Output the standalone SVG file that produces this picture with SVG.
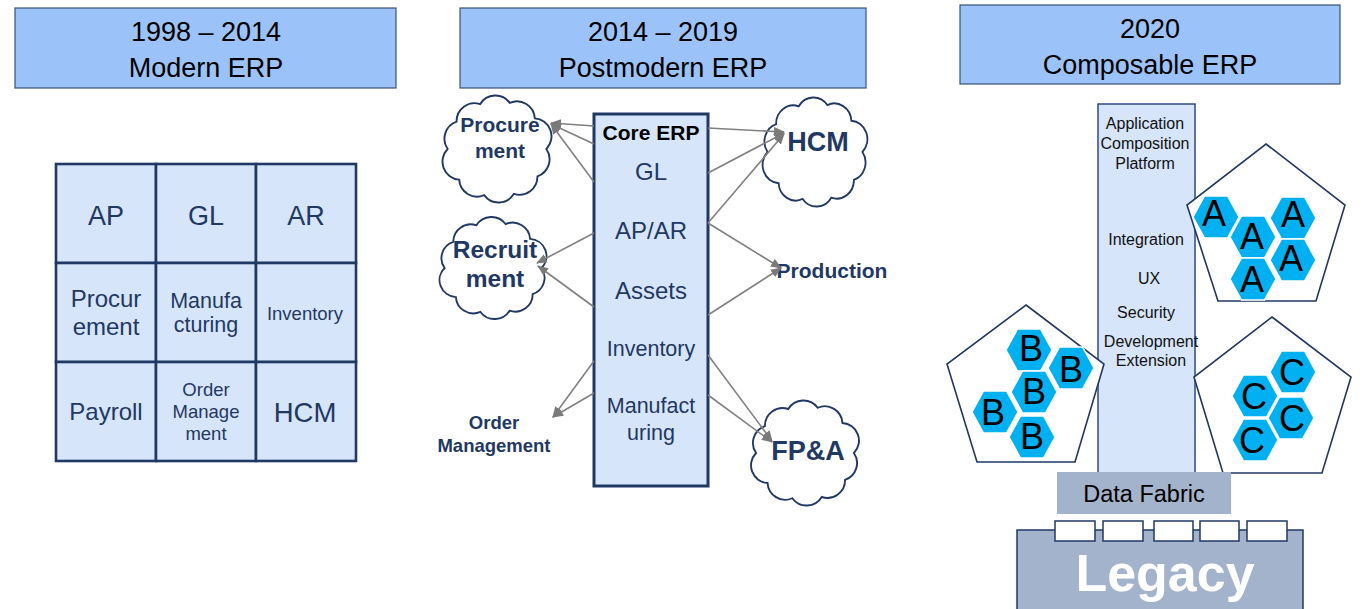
<svg xmlns="http://www.w3.org/2000/svg" width="1363" height="609" viewBox="0 0 1363 609">
<style>
text{font-family:"Liberation Sans",Arial,sans-serif;text-anchor:middle}
.hdr{fill:#9cc3f9;stroke:#3a5178;stroke-width:1.2}
.ht{font-size:27px;fill:#000}
.cell{fill:#d6e5fa;stroke:#1f3864;stroke-width:2.6}
.gt{fill:#1f3864}
.core{fill:#d6e5fa;stroke:#1f3864;stroke-width:3}
.ct{fill:#1f3864}
.cloud{fill:#fff;stroke:#1f3864;stroke-width:1.8}
.bt{font-weight:bold;fill:#1f3864}
.conn{stroke:#808080;stroke-width:1.6;fill:none;marker-end:url(#ah)}
.acp{fill:#d6e5fa;stroke:#2f4a86;stroke-width:1.5}
.pt{font-size:16px;fill:#111}
.pent{fill:#fff;stroke:#1f3864;stroke-width:1.6}
.hex{fill:#00b0f0;stroke:#fff;stroke-width:1.5}
.hl{font-size:36px;fill:#000}
.gray{fill:#a3b3cc}
.leg{fill:#a3b3cc;stroke:#1f3864;stroke-width:1.5}
.port{fill:#fff;stroke:#1f3864;stroke-width:1.5}
</style>
<defs>
<marker id="ah" markerUnits="userSpaceOnUse" markerWidth="11" markerHeight="9" refX="10" refY="4.5" orient="auto">
<path d="M0,0 L11,4.5 L0,9 Z" fill="#7a7a7a"/>
</marker>
<path id="cl" d="M47,0 A17,17 0 0 1 38.5,25.8 A17,17 0 0 1 16.1,42.3 A17,17 0 0 1 -12.2,43.5 A17,17 0 0 1 -36,28.9 A17,17 0 0 1 -47,0 A17,17 0 0 1 -38.5,-25.8 A17,17 0 0 1 -16.1,-42.3 A17,17 0 0 1 12.2,-43.5 A17,17 0 0 1 36,-28.9 A17,17 0 0 1 47,0 Z"/>
<polygon id="hx" points="-23,0 -11.5,-21 11.5,-21 23,0 11.5,21 -11.5,21"/>
</defs>

<!-- Headers -->
<g id="header1">
<rect class="hdr" x="15" y="8" width="381" height="80"/>
<text class="ht" x="206" y="41">1998 – 2014</text>
<text class="ht" x="206" y="77">Modern ERP</text>
</g>
<g id="header2">
<rect class="hdr" x="460" y="8" width="406" height="80"/>
<text class="ht" x="663" y="41">2014 – 2019</text>
<text class="ht" x="663" y="77">Postmodern ERP</text>
</g>
<g id="header3">
<rect class="hdr" x="960" y="5" width="380" height="79"/>
<text class="ht" x="1150" y="38">2020</text>
<text class="ht" x="1150" y="74">Composable ERP</text>
</g>

<!-- Modern ERP grid -->
<g id="grid">
<rect class="cell" x="56" y="164" width="100" height="99"/>
<rect class="cell" x="156" y="164" width="100" height="99"/>
<rect class="cell" x="256" y="164" width="100" height="99"/>
<rect class="cell" x="56" y="263" width="100" height="99"/>
<rect class="cell" x="156" y="263" width="100" height="99"/>
<rect class="cell" x="256" y="263" width="100" height="99"/>
<rect class="cell" x="56" y="362" width="100" height="99"/>
<rect class="cell" x="156" y="362" width="100" height="99"/>
<rect class="cell" x="256" y="362" width="100" height="99"/>
<text class="gt" x="106" y="225" font-size="27">AP</text>
<text class="gt" x="206" y="225" font-size="27">GL</text>
<text class="gt" x="306" y="225" font-size="27">AR</text>
<text class="gt" x="106" y="307" font-size="24">Procur</text>
<text class="gt" x="106" y="335" font-size="24">ement</text>
<text class="gt" x="206" y="308" font-size="21.5">Manufa</text>
<text class="gt" x="206" y="332" font-size="21.5">cturing</text>
<text class="gt" x="305" y="320" font-size="18.5">Inventory</text>
<text class="gt" x="106" y="420" font-size="24">Payroll</text>
<text class="gt" x="206" y="396" font-size="18.5">Order</text>
<text class="gt" x="206" y="418" font-size="18.5">Manage</text>
<text class="gt" x="206" y="440" font-size="18.5">ment</text>
<text class="gt" x="305" y="422" font-size="27.5">HCM</text>
</g>

<!-- Postmodern ERP -->
<g id="cloud-procurement">
<use href="#cl" class="cloud" transform="translate(497,149) scale(1.05,1.06)"/>
<text class="bt" x="500" y="132" font-size="21">Procure</text>
<text class="bt" x="500" y="158" font-size="21">ment</text>
</g>
<g id="cloud-recruitment">
<use href="#cl" class="cloud" transform="translate(493,268) scale(1.03,1.01)"/>
<text class="bt" x="495" y="258" font-size="24.5">Recruit</text>
<text class="bt" x="495" y="287" font-size="24.5">ment</text>
</g>
<g id="cloud-hcm">
<use href="#cl" class="cloud" transform="translate(815,152) scale(1.01,1.08)"/>
<text class="bt" x="818" y="151" font-size="27">HCM</text>
</g>
<g id="cloud-fpa">
<use href="#cl" class="cloud" transform="translate(805,453) scale(1.04,1.04)"/>
<text class="bt" x="808" y="460" font-size="27">FP&amp;A</text>
</g>
<g id="production">
<text class="bt" x="832" y="278" font-size="21">Production</text>
</g>
<g id="order-management">
<text class="bt" x="494" y="429" font-size="18.5">Order</text>
<text class="bt" x="494" y="452" font-size="18.5">Management</text>
</g>
<g id="core-erp">
<rect class="core" x="594" y="114" width="114" height="372"/>
<text x="651" y="140" font-size="21" font-weight="bold" fill="#000">Core ERP</text>
<text class="ct" x="651" y="180" font-size="24">GL</text>
<text class="ct" x="651" y="239" font-size="24">AP/AR</text>
<text class="ct" x="651" y="299" font-size="24">Assets</text>
<text class="ct" x="651" y="356" font-size="21.5">Inventory</text>
<text class="ct" x="651" y="413" font-size="21.5">Manufact</text>
<text class="ct" x="651" y="440" font-size="21.5">uring</text>
</g>

<g id="connectors">
<line class="conn" x1="594" y1="126" x2="551" y2="123"/>
<line class="conn" x1="594" y1="144" x2="551" y2="124"/>
<line class="conn" x1="594" y1="182" x2="551" y2="124"/>
<line class="conn" x1="594" y1="233" x2="537" y2="263"/>
<line class="conn" x1="594" y1="307" x2="538" y2="266"/>
<line class="conn" x1="594" y1="361" x2="553" y2="417"/>
<line class="conn" x1="594" y1="393" x2="553" y2="417"/>
<line class="conn" x1="708" y1="128" x2="784" y2="132"/>
<line class="conn" x1="708" y1="173" x2="784" y2="133"/>
<line class="conn" x1="708" y1="223" x2="784" y2="134"/>
<line class="conn" x1="708" y1="223" x2="781" y2="268"/>
<line class="conn" x1="708" y1="315" x2="781" y2="268"/>
<line class="conn" x1="708" y1="355" x2="772" y2="441"/>
<line class="conn" x1="708" y1="395" x2="772" y2="442"/>
</g>

<!-- Composable ERP -->
<g id="acp">
<rect class="acp" x="1098" y="104" width="97" height="370"/>
<text class="pt" x="1145" y="129">Application</text>
<text class="pt" x="1145" y="149">Composition</text>
<text class="pt" x="1145" y="169">Platform</text>
<text class="pt" x="1146" y="245">Integration</text>
<text class="pt" x="1149" y="284">UX</text>
<text class="pt" x="1146" y="318">Security</text>
<text class="pt" x="1151" y="347">Development</text>
<text class="pt" x="1151" y="366">Extension</text>
</g>
<g id="pbc-a">
<polygon class="pent" points="1266,144 1345,205 1316,301 1218,301 1187,205"/>
<use href="#hx" class="hex" x="1216" y="217"/>
<use href="#hx" class="hex" x="1293" y="218"/>
<use href="#hx" class="hex" x="1253" y="237"/>
<use href="#hx" class="hex" x="1293" y="260"/>
<use href="#hx" class="hex" x="1253" y="279"/>
<text class="hl" x="1214" y="226">A</text>
<text class="hl" x="1293" y="227">A</text>
<text class="hl" x="1252" y="249">A</text>
<text class="hl" x="1291" y="271">A</text>
<text class="hl" x="1252" y="292">A</text>
</g>
<g id="pbc-b">
<polygon class="pent" points="1026,305 1104,364 1075,462 977,462 947,364"/>
<use href="#hx" class="hex" x="1029" y="350"/>
<use href="#hx" class="hex" x="1071" y="368"/>
<use href="#hx" class="hex" x="1034" y="392"/>
<use href="#hx" class="hex" x="995" y="412"/>
<use href="#hx" class="hex" x="1032" y="437"/>
<text class="hl" x="1031" y="361">B</text>
<text class="hl" x="1071" y="382">B</text>
<text class="hl" x="1034" y="404">B</text>
<text class="hl" x="993" y="425">B</text>
<text class="hl" x="1032" y="449">B</text>
</g>
<g id="pbc-c">
<polygon class="pent" points="1272,317 1351,377 1322,473 1223,473 1194,377"/>
<use href="#hx" class="hex" x="1293" y="372"/>
<use href="#hx" class="hex" x="1255" y="396"/>
<use href="#hx" class="hex" x="1291" y="418"/>
<use href="#hx" class="hex" x="1255" y="440"/>
<text class="hl" x="1292" y="385">C</text>
<text class="hl" x="1254" y="409">C</text>
<text class="hl" x="1292" y="431">C</text>
<text class="hl" x="1252" y="453">C</text>
</g>
<g id="data-fabric">
<rect class="gray" x="1057" y="472" width="174" height="42"/>
<text x="1144" y="502" font-size="23.5" fill="#000">Data Fabric</text>
</g>
<g id="legacy">
<rect class="leg" x="1017" y="530" width="286" height="90"/>
<rect class="port" x="1055" y="521" width="40" height="20"/>
<rect class="port" x="1103" y="521" width="40" height="20"/>
<rect class="port" x="1154" y="521" width="39" height="20"/>
<rect class="port" x="1200" y="521" width="39" height="20"/>
<rect class="port" x="1247" y="521" width="40" height="20"/>
<text x="1165" y="591" font-size="52" font-weight="bold" fill="#fff">Legacy</text>
</g>
</svg>
